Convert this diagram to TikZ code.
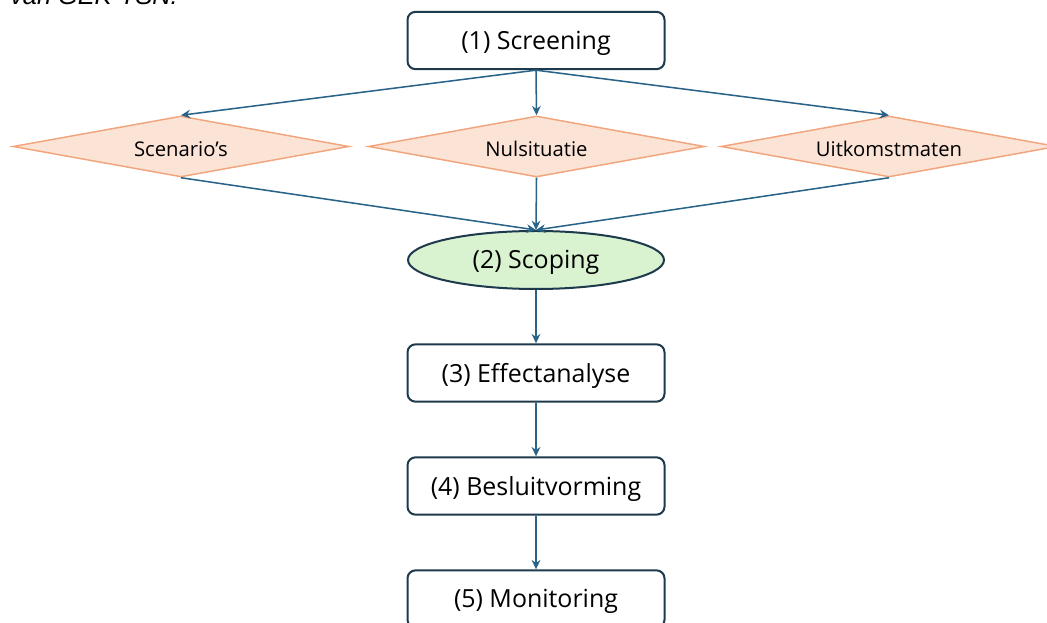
\documentclass[tikz,border=0pt]{standalone}
\usepackage{fontspec}
\setmainfont{Open Sans}
\newfontfamily\capfont{Liberation Sans}
\usetikzlibrary{shapes.geometric,arrows.meta}
\definecolor{boxline}{HTML}{1D3A4C}
\definecolor{arrowc}{HTML}{2A6388}
\definecolor{dfill}{HTML}{FBE3D6}
\definecolor{dline}{HTML}{F1A57D}
\definecolor{efill}{HTML}{D9F2D0}
\tikzset{
  stepbox/.style={draw=boxline, line width=1.5pt, rounded corners=6pt, fill=white,
    minimum width=192.75pt, minimum height=43pt, inner sep=0pt, font=\fontsize{18.7}{22}\selectfont},
  choice/.style={draw=dline, line width=1.1pt, fill=dfill, diamond, aspect=5.5, inner sep=0pt,
    minimum width=252pt, minimum height=45.75pt, font=\fontsize{15.2}{18}\selectfont},
  scopebox/.style={draw=boxline, line width=1.5pt, fill=efill, ellipse, inner sep=0pt,
    minimum width=192pt, minimum height=43.5pt, font=\fontsize{18.7}{22}\selectfont},
  lbl/.style={inner sep=0pt, yshift=-2pt},
  conn/.style={draw=arrowc, line width=1.15pt, -{Stealth[length=7pt,width=6.5pt]}}
}
\begin{document}
\begin{tikzpicture}[x=0.75pt,y=-0.75pt]
\useasboundingbox (0,0) rectangle (1047,623);
\clip (0,0) rectangle (1047,623);
\node[anchor=base west, inner sep=0pt, font=\capfont\itshape\fontsize{19}{22}\selectfont] (cap) at (10,5) {van GEK-TSN.};
\node[stepbox] (s1) at (536,40.5) {};
\node[lbl, font=\fontsize{18.7}{22}\selectfont] (t1) at (s1) {(1) Screening};
\node[choice] (d1) at (181,146.5) {};
\node[lbl, font=\fontsize{15.2}{18}\selectfont] (u1) at (d1) {Scenario’s};
\node[choice] (d2) at (536.5,146.5) {};
\node[lbl, font=\fontsize{15.2}{18}\selectfont] (u2) at (d2) {Nulsituatie};
\node[choice] (d3) at (889,146.5) {};
\node[lbl, font=\fontsize{15.2}{18}\selectfont] (u3) at (d3) {Uitkomstmaten};
\node[scopebox] (s2) at (536,260) {};
\node[lbl, font=\fontsize{18.7}{22}\selectfont] (t2) at (s2) {(2) Scoping};
\node[stepbox] (s3) at (536,373) {};
\node[lbl, font=\fontsize{18.7}{22}\selectfont] (t3) at (s3) {(3) Effectanalyse};
\node[stepbox] (s4) at (536,486) {};
\node[lbl, font=\fontsize{18.7}{22}\selectfont] (t4) at (s4) {(4) Besluitvorming};
\node[stepbox] (s5) at (536,599) {};
\node[lbl, font=\fontsize{18.7}{22}\selectfont] (t5) at (s5) {(5) Monitoring};
\draw[conn] (s1.south) -- (d1.north);
\draw[conn] (s1.south) -- (d2.north);
\draw[conn] (s1.south) -- (d3.north);
\draw[conn] (d1.south) -- (s2.north);
\draw[conn] (d2.south) -- (s2.north);
\draw[conn] (d3.south) -- (s2.north);
\draw[conn] (s2.south) -- (s3.north);
\draw[conn] (s3.south) -- (s4.north);
\draw[conn] (s4.south) -- (s5.north);
\end{tikzpicture}
\end{document}
